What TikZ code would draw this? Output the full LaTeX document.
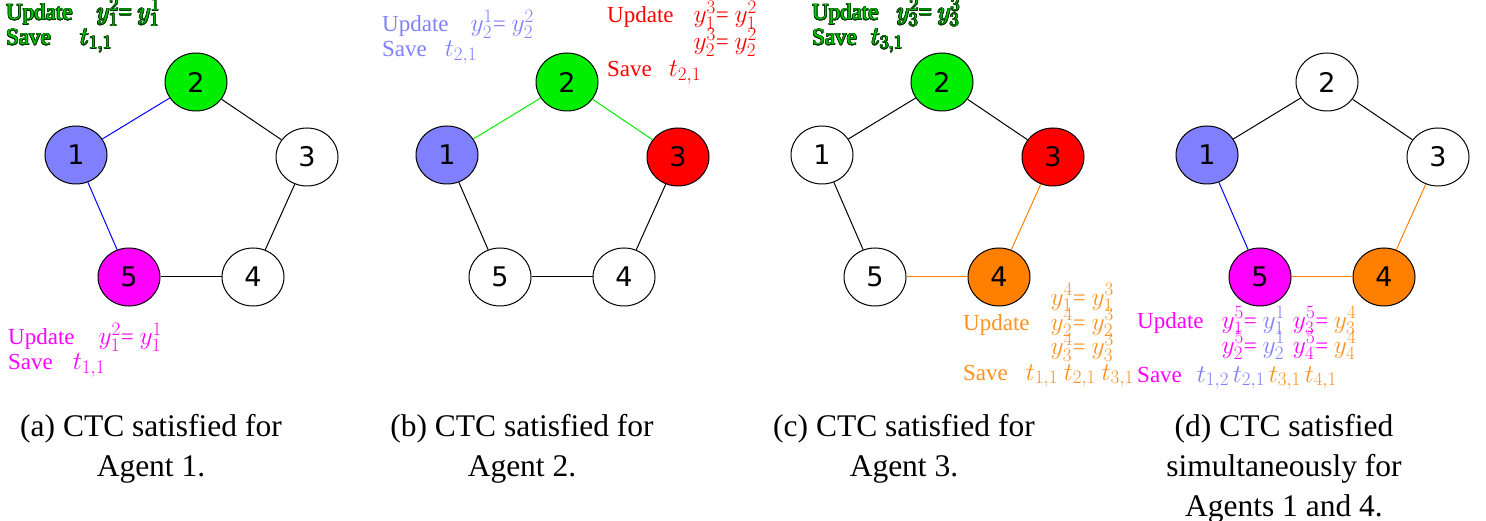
\RequirePackage{fix-cm}
\documentclass[tikz,border=0pt]{standalone}
\usepackage{fontspec}
\usepackage{contour}
\setmainfont{Liberation Serif}
\newfontfamily\agentfont{DejaVu Sans}
\usetikzlibrary{shapes.geometric}
\lineskiplimit=-30pt
\DeclareMathSizes{23}{25.5}{19}{15}
\contourlength{0.7pt}
\contournumber{16}

\definecolor{agentblue}{RGB}{128,128,255}
\definecolor{agentgreen}{RGB}{0,238,0}
\definecolor{agentred}{RGB}{255,0,0}
\definecolor{agentorange}{RGB}{255,128,0}
\definecolor{agentmagenta}{RGB}{255,0,255}
\definecolor{notegreen}{RGB}{0,200,0}
\definecolor{noteorange}{RGB}{255,145,30}

\newcommand{\outlined}[1]{\contour{black!80!green}{#1}}

\tikzset{
    agent/.style={ellipse, draw, line width=1pt, minimum width=62pt, minimum height=58pt, inner sep=0pt, font=\agentfont\fontsize{27}{27}\selectfont},
    link/.style={line width=1pt},
    note/.style={anchor=base west, align=left, inner sep=0pt, font=\fontsize{23}{25}\selectfont},
    caption/.style={anchor=base, align=center, inner sep=0pt, font=\fontsize{31.5}{40}\selectfont}
}

\begin{document}
\begin{tikzpicture}[x=1pt, y=-1pt]
    \useasboundingbox (0, 0) rectangle (1486, 521);
    % the five agents of each panel
    \foreach \p/\dx/\fa/\fb/\fc/\fd/\fe in {a/0/agentblue/agentgreen/white/white/agentmagenta, b/371/agentblue/agentgreen/agentred/white/white, c/746/white/agentgreen/agentred/agentorange/white, d/1131/agentblue/white/white/agentorange/agentmagenta} {
        \node[agent, fill=\fa] (\p1) at (\dx+76, 155) {1};
        \node[agent, fill=\fb] (\p2) at (\dx+196, 82) {2};
        \node[agent, fill=\fc] (\p3) at (\dx+307, 157) {3};
        \node[agent, fill=\fd] (\p4) at (\dx+253, 277) {4};
        \node[agent, fill=\fe] (\p5) at (\dx+129, 277) {5};
    }
    % ring links
    \foreach \p/\ea/\eb/\ec/\ed/\ee in {a/blue/black/black/black/blue, b/agentgreen/agentgreen/black/black/black, c/black/black/agentorange/agentorange/black, d/black/black/agentorange/agentorange/blue} {
        \draw[link, \ea] (\p1) -- (\p2);
        \draw[link, \eb] (\p2) -- (\p3);
        \draw[link, \ec] (\p3) -- (\p4);
        \draw[link, \ed] (\p4) -- (\p5);
        \draw[link, \ee] (\p5) -- (\p1);
    }
    % updates (anchored at the last line)
    \node[note, text=notegreen] (noteA1) at (6, 45) {\outlined{Update\hspace{24pt}$y_1^2$= $y_1^1$}\\\outlined{Save\hspace{29pt}$t_{1,1}$}};
    \node[note, text=agentmagenta] (noteA2) at (8, 370) {Update\hspace{24pt}$y_1^2$= $y_1^1$\\Save\hspace{20pt}$t_{1,1}$};
    \node[note, text=agentblue] (noteB1) at (382, 57) {Update\hspace{22pt}$y_2^1$= $y_2^2$\\Save\hspace{18pt}$t_{2,1}$};
    \node[note, text=agentred] (noteB2) at (607, 77) {Update\hspace{20pt}$y_1^3$= $y_1^2$\\[2pt]\hphantom{Update}\hspace{20pt}$y_2^3$= $y_2^2$\\[2pt]Save\hspace{17pt}$t_{2,1}$};
    \node[note, text=notegreen] (noteC1) at (812, 45) {\outlined{Update\hspace{18pt}$y_3^2$= $y_3^3$}\\\outlined{Save\hspace{14pt}$t_{3,1}$}};
    \node[note, text=noteorange] (noteC2) at (963, 380) {\hphantom{Update}\hspace{21pt}$y_1^4$= $y_1^3$\\Update\hspace{21pt}$y_2^4$= $y_2^3$\\\hphantom{Update}\hspace{21pt}$y_3^4$= $y_3^3$\\Save\hspace{18pt}$t_{1,1}$ $t_{2,1}$ $t_{3,1}$};
    \node[note, text=agentmagenta] (noteD) at (1137, 382) {Update\hspace{18pt}$y_1^5$= \textcolor{agentblue}{$y_1^1$}\hspace{8pt}$y_3^5$= \textcolor{noteorange}{$y_3^4$}\\\hphantom{Update}\hspace{18pt}$y_2^5$= \textcolor{agentblue}{$y_2^1$}\hspace{8pt}$y_4^5$= \textcolor{noteorange}{$y_4^4$}\\[4pt]Save\hspace{15pt}\textcolor{agentblue}{$t_{1,2}$\,$t_{2,1}$}\,\textcolor{noteorange}{$t_{3,1}$\,$t_{4,1}$}};
    % captions (anchored at the last line)
    \node[caption] (capA) at (151, 476) {(a) CTC satisfied for\\Agent 1.};
    \node[caption] (capB) at (522, 476) {(b) CTC satisfied for\\Agent 2.};
    \node[caption] (capC) at (904, 476) {(c) CTC satisfied for\\Agent 3.};
    \node[caption] (capD) at (1284, 516) {(d) CTC satisfied\\simultaneously for\\Agents 1 and 4.};
\end{tikzpicture}
\end{document}
